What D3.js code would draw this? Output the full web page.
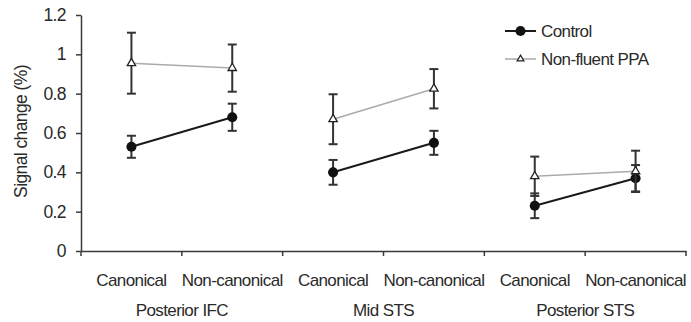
<!DOCTYPE html>
<html>
<head>
<meta charset="utf-8">
<script src="https://cdn.jsdelivr.net/npm/d3@7"></script>
<style>
  body { margin: 0; background: #fff; }
  svg { display: block; font-family: "Liberation Sans", Arial, sans-serif; }
  svg text { letter-spacing: -0.6px; }
</style>
</head>
<body>
<script>
const width = 691,
  height = 322,
  marginTop = 15,
  marginRight = 5,
  marginBottom = 71,
  marginLeft = 81;

const fontSize = 17;

// data
const regions = ["Posterior IFC", "Mid STS", "Posterior STS"];
const conditions = ["Canonical", "Non-canonical"];
const controlValues = [0.53, 0.68, 0.40, 0.55, 0.23, 0.37];
const controlErrors = [0.056, 0.069, 0.063, 0.061, 0.063, 0.067];
const ppaValues = [0.955, 0.93, 0.67, 0.825, 0.38, 0.405];
const ppaErrors = [0.155, 0.12, 0.127, 0.10, 0.10, 0.105];
const yTicks = [0, 0.2, 0.4, 0.6, 0.8, 1, 1.2];

const cats = regions.flatMap((r) => conditions.map((c) => r + "|" + c));

const x = d3
  .scaleBand()
  .domain(cats)
  .range([marginLeft, width - marginRight])
  .padding(0);
const y = d3.scaleLinear().domain([0, 1.2]).range([height - marginBottom, marginTop]);

const svg = d3
  .select("body")
  .append("svg")
  .attr("width", width)
  .attr("height", height);

const axisColor = "#3a3a3a";
const textColor = "#2a2a2a";

// y axis
const yAxis = svg
  .append("g")
  .attr("transform", `translate(${marginLeft},0)`)
  .call(
    d3.axisLeft(y)
      .tickValues(yTicks)
      .tickFormat(d3.format("~g"))
      .tickSize(5)
      .tickSizeOuter(0)
      .tickPadding(10)
  )
  .attr("font-family", null)
  .attr("font-size", fontSize + 0.5);
yAxis.select(".domain").attr("stroke", axisColor).attr("stroke-width", 1.5);
yAxis.selectAll(".tick line").attr("stroke", axisColor).attr("stroke-width", 1.5);
yAxis.selectAll(".tick text").attr("fill", textColor);

// x axis
const xAxis = svg
  .append("g")
  .attr("transform", `translate(0,${height - marginBottom})`)
  .call(
    d3.axisBottom(x)
      .tickFormat((d) => d.split("|")[1])
      .tickSize(0)
      .tickSizeOuter(0)
      .tickPadding(22.5)
  )
  .attr("font-family", null)
  .attr("font-size", fontSize);
xAxis.select(".domain").attr("stroke", axisColor).attr("stroke-width", 1.5);
xAxis.selectAll(".tick text").attr("fill", textColor);

// tick marks between categories
const bounds = cats.map((c) => x(c)).concat([x.range()[1]]);
xAxis
  .selectAll(".sep")
  .data(bounds)
  .join("line")
  .attr("class", "sep")
  .attr("x1", (d) => d)
  .attr("x2", (d) => d)
  .attr("y1", 0)
  .attr("y2", 5)
  .attr("stroke", axisColor)
  .attr("stroke-width", 1.5);

// region labels
xAxis
  .selectAll(".region")
  .data(regions)
  .join("text")
  .attr("class", "region")
  .attr("x", (r) => x(r + "|" + conditions[1]))
  .attr("y", 65)
  .attr("text-anchor", "middle")
  .attr("fill", textColor)
  .text((r) => r);

// y axis title
svg
  .append("text")
  .attr("transform", `translate(27,${(marginTop + height - marginBottom) / 2 - 1.5}) rotate(-90)`)
  .attr("text-anchor", "middle")
  .attr("fill", textColor)
  .attr("font-size", fontSize + 0.5)
  .text("Signal change (%)");

const cx = (i) => x(cats[i]) + x.bandwidth() / 2;

function drawSeries(values, errors, opts) {
  const g = svg.append("g");
  const line = d3.line().x((d) => cx(d.i)).y((d) => y(d.v));
  regions.forEach((r, k) => {
    const pts = [2 * k, 2 * k + 1].map((i) => ({ i, v: values[i] }));
    g.append("path")
      .attr("d", line(pts))
      .attr("fill", "none")
      .attr("stroke", opts.lineColor)
      .attr("stroke-width", opts.lineWidth);
  });
  const eb = g
    .selectAll(".err")
    .data(values.map((v, i) => ({ v, e: errors[i], i })))
    .join("g")
    .attr("stroke", "#333")
    .attr("stroke-width", 2);
  eb.append("line")
    .attr("x1", (d) => cx(d.i))
    .attr("x2", (d) => cx(d.i))
    .attr("y1", (d) => y(d.v - d.e))
    .attr("y2", (d) => y(d.v + d.e));
  [-1, 1].forEach((s) => {
    eb.append("line")
      .attr("x1", (d) => cx(d.i) - 4.5)
      .attr("x2", (d) => cx(d.i) + 4.5)
      .attr("y1", (d) => y(d.v + s * d.e))
      .attr("y2", (d) => y(d.v + s * d.e));
  });
  return g;
}

const sym = {
  control: d3.symbol().type(d3.symbolCircle).size(80),
  ppa: d3.symbol().type(d3.symbolTriangle).size(30),
};

const gc = drawSeries(controlValues, controlErrors, { lineColor: "#1a1a1a", lineWidth: 2 });
gc.selectAll(".pt")
  .data(controlValues)
  .join("path")
  .attr("class", "pt")
  .attr("transform", (d, i) => `translate(${cx(i)},${y(d)})`)
  .attr("d", sym.control)
  .attr("fill", "#111");

const gp = drawSeries(ppaValues, ppaErrors, { lineColor: "#aaa", lineWidth: 1.5 });
gp.selectAll(".pt")
  .data(ppaValues)
  .join("path")
  .attr("class", "pt")
  .attr("transform", (d, i) => `translate(${cx(i)},${y(d)})`)
  .attr("d", sym.ppa)
  .attr("fill", "#fff")
  .attr("stroke", "#222")
  .attr("stroke-width", 1.3);

// legend
const legend = svg.append("g").attr("transform", "translate(505,0)");
const legendItems = [
  { name: "Control", line: "#1a1a1a", w: 2, y: 31, s: sym.control, fill: "#111", stroke: "none" },
  { name: "Non-fluent PPA", line: "#aaa", w: 1.5, y: 59, s: d3.symbol().type(d3.symbolTriangle).size(20), fill: "#fff", stroke: "#222" },
];
legendItems.forEach((d) => {
  legend.append("line")
    .attr("x1", 0).attr("x2", 31)
    .attr("y1", d.y).attr("y2", d.y)
    .attr("stroke", d.line).attr("stroke-width", d.w);
  legend.append("path")
    .attr("transform", `translate(15.5,${d.y})`)
    .attr("d", d.s)
    .attr("fill", d.fill)
    .attr("stroke", d.stroke)
    .attr("stroke-width", 1.2);
  legend.append("text")
    .attr("x", 36)
    .attr("y", d.y)
    .attr("dy", "0.35em")
    .attr("fill", textColor)
    .attr("font-size", fontSize)
    .text(d.name);
});
</script>
</body>
</html>
